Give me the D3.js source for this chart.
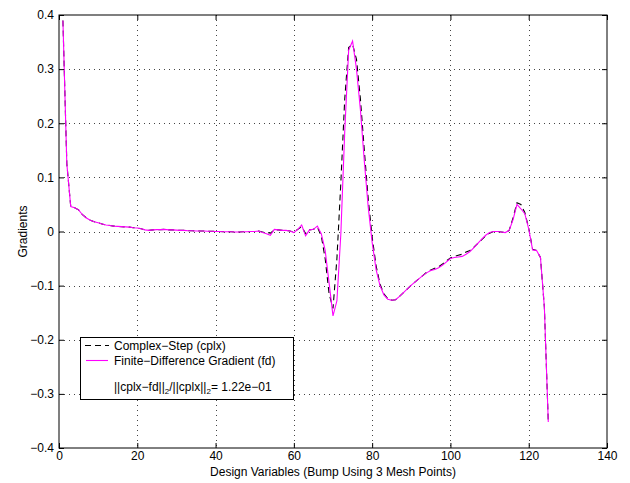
<!DOCTYPE html>
<html>
<head>
<meta charset="utf-8">
<script src="https://cdn.jsdelivr.net/npm/d3@7/dist/d3.min.js"></script>
<style>
  html, body { margin: 0; padding: 0; background: #fff; }
  svg text { font-family: "Liberation Sans", Arial, Helvetica, sans-serif; font-size: 12px; fill: #000; }
</style>
</head>
<body>
<svg id="chart" width="630" height="483"></svg>
<script>
// Design variable index (1..125)
const designVars = d3.range(1, 126);

// Finite-difference gradient (fd)
const fdGrad = [
  0.390, 0.125, 0.046, 0.044, 0.040, 0.031, 0.025, 0.021, 0.018, 0.016,
  0.014, 0.012, 0.011, 0.010, 0.0095, 0.009, 0.0085, 0.008, 0.007, 0.0065,
  0.005, 0.003, 0.002, 0.003, 0.0035, 0.0035, 0.004, 0.003, 0.003, 0.0025,
  0.002, 0.002, 0.0015, 0.0015, 0.001, 0.001, 0.001, 0.0005, 0.0005, 0.0,
  0.0, -0.0005, -0.0005, -0.0005, -0.001, -0.001, -0.0005, -0.0005, 0.0, 0.0,
  0.001, -0.002, -0.004, -0.007, 0.004, 0.003, 0.002, 0.002, 0.001, -0.002,
  0.004, 0.012, -0.008, 0.003, 0.004, 0.010, -0.004, -0.035, -0.095, -0.156,
  -0.128, -0.005, 0.185, 0.335, 0.352, 0.300, 0.225, 0.130, 0.045, -0.020,
  -0.070, -0.100, -0.117, -0.125, -0.127, -0.126, -0.120, -0.113, -0.106, -0.099,
  -0.093, -0.087, -0.081, -0.076, -0.072, -0.070, -0.067, -0.062, -0.056, -0.050,
  -0.048, -0.047, -0.046, -0.042, -0.037, -0.030, -0.022, -0.014, -0.007, -0.002,
  0.000, 0.000, -0.001, -0.002, 0.002, 0.022, 0.050, 0.042, 0.033, 0.005,
  -0.034, -0.035, -0.048, -0.140, -0.352
];

// Complex-step gradient (cplx)
const cplxGrad = [
  0.390, 0.125, 0.046, 0.044, 0.040, 0.031, 0.025, 0.021, 0.018, 0.016,
  0.014, 0.012, 0.011, 0.010, 0.0095, 0.009, 0.0085, 0.008, 0.007, 0.0065,
  0.005, 0.003, 0.002, 0.003, 0.0035, 0.0035, 0.004, 0.003, 0.003, 0.0025,
  0.002, 0.002, 0.0015, 0.0015, 0.001, 0.001, 0.001, 0.0005, 0.0005, 0.0,
  0.0, -0.0005, -0.0005, -0.0005, -0.001, -0.001, -0.0005, -0.0005, 0.0, 0.0,
  0.001, -0.001, -0.002, -0.003, 0.003, 0.003, 0.002, 0.002, 0.001, -0.001,
  0.004, 0.009, -0.004, 0.003, 0.004, 0.008, -0.008, -0.050, -0.115, -0.142,
  -0.050, 0.090, 0.245, 0.340, 0.346, 0.318, 0.245, 0.150, 0.060, -0.010,
  -0.063, -0.097, -0.115, -0.124, -0.127, -0.126, -0.120, -0.113, -0.106, -0.099,
  -0.093, -0.087, -0.081, -0.075, -0.071, -0.068, -0.065, -0.060, -0.054, -0.049,
  -0.046, -0.044, -0.042, -0.038, -0.035, -0.029, -0.022, -0.015, -0.008, -0.003,
  0.000, 0.000, -0.001, -0.002, 0.002, 0.025, 0.053, 0.050, 0.035, 0.006,
  -0.033, -0.035, -0.048, -0.140, -0.352
];

const xTickValues = [0, 20, 40, 60, 80, 100, 120, 140];
const xTickLabels = ["0", "20", "40", "60", "80", "100", "120", "140"];
const yTickValues = [-0.4, -0.3, -0.2, -0.1, 0, 0.1, 0.2, 0.3, 0.4];
const yTickLabels = ["\u22120.4", "\u22120.3", "\u22120.2", "\u22120.1", "0", "0.1", "0.2", "0.3", "0.4"];

const seriesNames = ["Complex\u2212Step (cplx)", "Finite\u2212Difference Gradient (fd)"];

const plot = { left: 59, right: 607, top: 15, bottom: 448 };

const svg = d3.select("#chart");

const x = d3.scaleLinear().domain([0, 140]).range([plot.left, plot.right]);
const y = d3.scaleLinear().domain([-0.4, 0.4]).range([plot.bottom, plot.top]);

// dotted grid
const grid = svg.append("g").attr("class", "grid")
  .attr("stroke", "#444").attr("stroke-width", 1).attr("stroke-dasharray", "1,4");
grid.selectAll("line.v")
  .data(xTickValues.filter(v => v > 0 && v < 140))
  .join("line").attr("class", "v")
  .attr("x1", d => Math.round(x(d)) + 0.5).attr("x2", d => Math.round(x(d)) + 0.5)
  .attr("y1", plot.top).attr("y2", plot.bottom);
grid.selectAll("line.h")
  .data(yTickValues.filter(v => v > -0.4 && v < 0.4))
  .join("line").attr("class", "h")
  .attr("y1", d => Math.round(y(d)) + 0.5).attr("y2", d => Math.round(y(d)) + 0.5)
  .attr("x1", plot.left).attr("x2", plot.right);

// data lines
const line = d3.line().x(d => x(d[0])).y(d => y(d[1]));
const cplxPts = designVars.map((v, i) => [v, cplxGrad[i]]);
const fdPts = designVars.map((v, i) => [v, fdGrad[i]]);

svg.append("path").datum(cplxPts)
  .attr("d", line).attr("fill", "none")
  .attr("stroke", "#000").attr("stroke-width", 1.1)
  .attr("stroke-dasharray", "6,4");
svg.append("path").datum(fdPts)
  .attr("d", line).attr("fill", "none")
  .attr("stroke", "#ff00ff").attr("stroke-width", 1.1);

// axes with inward ticks on all four sides
const ax = g => g.call(s => s.select(".domain").remove())
  .call(s => s.selectAll(".tick line").attr("stroke", "#000"));

svg.append("g").attr("transform", `translate(0,${plot.bottom})`)
  .call(d3.axisBottom(x).tickValues(xTickValues)
    .tickFormat((d, i) => xTickLabels[i]).tickSizeInner(-5).tickSizeOuter(0).tickPadding(3))
  .call(ax);
svg.append("g").attr("transform", `translate(0,${plot.top})`)
  .call(d3.axisTop(x).tickValues(xTickValues).tickFormat("").tickSizeInner(-5).tickSizeOuter(0))
  .call(ax);
svg.append("g").attr("transform", `translate(${plot.left},0)`)
  .call(d3.axisLeft(y).tickValues(yTickValues)
    .tickFormat((d, i) => yTickLabels[i]).tickSizeInner(-5).tickSizeOuter(0).tickPadding(5))
  .call(ax);
svg.append("g").attr("transform", `translate(${plot.right},0)`)
  .call(d3.axisRight(y).tickValues(yTickValues).tickFormat("").tickSizeInner(-5).tickSizeOuter(0))
  .call(ax);

svg.selectAll(".tick text").attr("font-family", null).attr("font-size", null).style("font-size", "12px");

// frame
svg.append("rect")
  .attr("x", plot.left).attr("y", plot.top)
  .attr("width", plot.right - plot.left).attr("height", plot.bottom - plot.top)
  .attr("fill", "none").attr("stroke", "#000").attr("stroke-width", 1);

// axis titles
svg.append("text")
  .attr("x", (plot.left + plot.right) / 2).attr("y", 476)
  .attr("text-anchor", "middle")
  .text("Design Variables (Bump Using 3 Mesh Points)");
svg.append("text")
  .attr("transform", `translate(27,${(plot.top + plot.bottom) / 2}) rotate(-90)`)
  .attr("text-anchor", "middle")
  .text("Gradients");

// legend
const leg = svg.append("g");
leg.append("rect").attr("x", 80.5).attr("y", 337.5).attr("width", 213).attr("height", 62)
  .attr("fill", "#fff").attr("stroke", "#000").attr("stroke-width", 1);
leg.append("line").attr("x1", 85).attr("x2", 109).attr("y1", 345.5).attr("y2", 345.5)
  .attr("stroke", "#000").attr("stroke-width", 1.1).attr("stroke-dasharray", "6,4");
leg.append("line").attr("x1", 86).attr("x2", 108).attr("y1", 360.5).attr("y2", 360.5)
  .attr("stroke", "#ff00ff").attr("stroke-width", 1.1);
leg.append("text").attr("x", 114).attr("y", 349.5).text(seriesNames[0]);
leg.append("text").attr("x", 114).attr("y", 364.5).text(seriesNames[1]);

const normText = leg.append("text").attr("x", 114).attr("y", 390.5);
normText.append("tspan").text("||cplx\u2212fd||");
normText.append("tspan").attr("dy", 3).style("font-size", "8px").text("2");
normText.append("tspan").attr("dy", -3).text("/||cplx||");
normText.append("tspan").attr("dy", 3).style("font-size", "8px").text("2");
normText.append("tspan").attr("dy", -3).text("= 1.22e\u221201");
</script>
</body>
</html>
